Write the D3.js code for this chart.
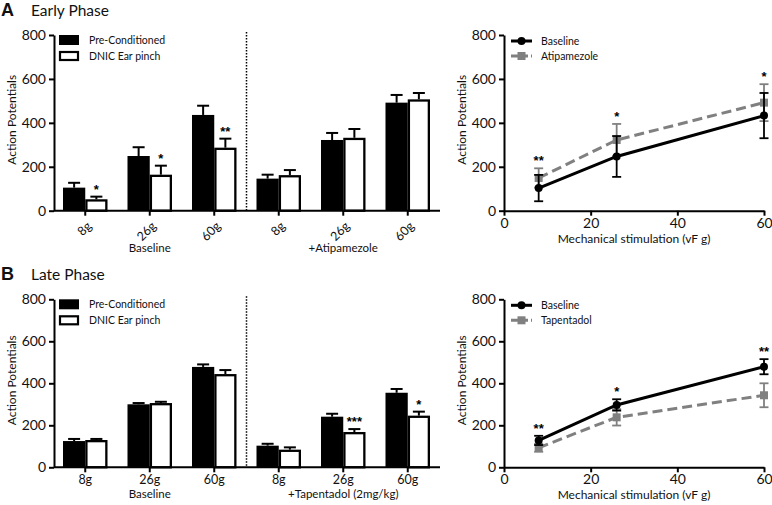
<!DOCTYPE html>
<html>
<head>
<meta charset="utf-8">
<script src="https://cdn.jsdelivr.net/npm/d3@7"></script>
<style>
  body { margin: 0; background: #fff; }
  text { font-family: Lato, "Open Sans", sans-serif; fill: #111; }
  text.star { font-family: "Liberation Sans", Arial, sans-serif; fill: #000; }
</style>
</head>
<body>
<script>
// ---- data ----
const catLabels = ["8g", "26g", "60g"];
const seriesNames = ["Pre-Conditioned", "DNIC Ear pinch"];

// A: early phase bars (baseline x3, + atipamezole x3)
const aPre = [105, 249, 436, 146, 322, 492];
const aPreErr = [22, 40, 42, 18, 32, 35];
const aDnic = [52, 164, 287, 162, 332, 507];
const aDnicErr = [12, 41, 41, 23, 40, 29];
const aStars = ["*", "*", "**", "", "", ""];
const aGroups = ["Baseline", "+Atipamezole"];

// B: late phase bars (baseline x3, + tapentadol x3)
const bPre = [125, 300, 478, 103, 241, 355];
const bPreErr = [10, 6, 12, 9, 14, 18];
const bDnic = [130, 306, 444, 84, 168, 246];
const bDnicErr = [5, 6, 19, 11, 14, 19];
const bStars = ["", "", "", "", "***", "*"];
const bGroups = ["Baseline", "+Tapentadol (2mg/kg)"];

// line panels
const stim = [8, 26, 60];
const aBase = [103, 247, 433];
const aBaseErr = [60, 93, 103];
const aAtip = [149, 322, 492];
const aAtipErr = [44, 73, 84];
const aLineStars = ["**", "*", "*"];

const bBase = [128, 297, 479];
const bBaseErr = [22, 27, 36];
const bTap = [93, 238, 343];
const bTapErr = [19, 39, 57];
const bLineStars = ["**", "*", "**"];

const yTicks = [0, 200, 400, 600, 800];
const xTicks = [0, 20, 40, 60];
const grey = "#808080";

const svg = d3.select("body").append("svg")
    .attr("width", 772)
    .attr("height", 505);

function styleAxis(g) {
  g.select(".domain").attr("stroke", "#000").attr("stroke-width", 2);
  g.selectAll(".tick line").attr("stroke", "#000").attr("stroke-width", 2);
  g.selectAll(".tick text").style("font-family", "Lato, sans-serif").attr("fill", "#111");
}

function panelTitle(letter, label, y) {
  svg.append("text").attr("x", 1).attr("y", y)
      .style("font-family", "'Liberation Sans', Arial, sans-serif")
      .style("font-weight", "bold").style("font-size", "18px")
      .text(letter);
  svg.append("text").attr("x", 31).attr("y", y)
      .style("font-size", "15.5px")
      .text(label);
}

function yLabel(x, cy) {
  svg.append("text")
      .attr("transform", `translate(${x},${cy}) rotate(-90)`)
      .attr("text-anchor", "middle")
      .style("font-size", "12px")
      .text("Action Potentials");
}

/*
   Grouped bar panel with up-only error bars
 */
function barPanel(o) {
  const y = d3.scaleLinear().domain([0, 800]).range([o.bottom, o.top]);
  const x0 = d3.scaleBand().domain(d3.range(6)).range([53, 440])
      .paddingInner(0.31).paddingOuter(0.155);
  const x1 = d3.scaleBand().domain([0, 1]).range([0, x0.bandwidth()]);
  const g = svg.append("g");

  // dotted separator
  const sepX = (x0(2) + x0.bandwidth() + x0(3)) / 2;
  g.append("line")
      .attr("x1", sepX).attr("x2", sepX)
      .attr("y1", o.top - 3).attr("y2", o.bottom)
      .attr("stroke", "#000").attr("stroke-width", 1.5)
      .attr("stroke-dasharray", "1.5,1.5");

  const rows = d3.range(6).map(i => [
    {i, s: 0, v: o.pre[i], e: o.preErr[i]},
    {i, s: 1, v: o.dnic[i], e: o.dnicErr[i], star: o.stars[i]}
  ]).flat();

  const bw = x1.bandwidth();
  const cx = d => x0(d.i) + x1(d.s) + bw / 2;

  // error bars (up only)
  g.selectAll("line.err").data(rows).enter().append("line")
      .attr("x1", cx).attr("x2", cx)
      .attr("y1", d => y(d.v)).attr("y2", d => y(d.v + d.e))
      .attr("stroke", "#000").attr("stroke-width", 2);
  g.selectAll("line.cap").data(rows).enter().append("line")
      .attr("x1", d => cx(d) - 6).attr("x2", d => cx(d) + 6)
      .attr("y1", d => y(d.v + d.e)).attr("y2", d => y(d.v + d.e))
      .attr("stroke", "#000").attr("stroke-width", 2);

  g.selectAll("rect.bar").data(rows).enter().append("rect")
      .attr("x", d => x0(d.i) + x1(d.s) + (d.s ? 1.15 : 0))
      .attr("y", d => y(d.v) + (d.s ? 1.15 : 0))
      .attr("width", d => bw - (d.s ? 2.3 : 0))
      .attr("height", d => o.bottom - y(d.v) - (d.s ? 1.15 : 0))
      .attr("fill", d => d.s ? "#fff" : "#000")
      .attr("stroke", d => d.s ? "#000" : "none")
      .attr("stroke-width", 2.3);

  g.selectAll("text.star").data(rows.filter(d => d.star)).enter().append("text")
      .attr("class", "star")
      .attr("x", cx).attr("y", d => y(d.v + d.e) - 3)
      .attr("text-anchor", "middle")
      .style("font-size", "13px").style("font-weight", "bold")
      .text(d => d.star);

  // axes
  const ya = g.append("g").attr("transform", "translate(54,0)")
      .call(d3.axisLeft(y).tickValues(yTicks).tickSize(5).tickSizeOuter(0).tickPadding(3));
  ya.selectAll("text").style("font-size", "14px");
  styleAxis(ya);

  const xa = g.append("g").attr("transform", `translate(0,${o.bottom})`)
      .call(d3.axisBottom(x0).tickSize(5).tickSizeOuter(0).tickFormat(i => catLabels[i % 3]));
  xa.select(".domain").attr("d", `M54,0H440`);
  styleAxis(xa);
  if (o.rotate) {
    xa.selectAll(".tick text")
        .attr("y", 0).attr("dy", "0.35em")
        .attr("text-anchor", "end")
        .attr("transform", "translate(4,13) rotate(-45)")
        .style("font-size", "12.5px");
  } else {
    xa.selectAll(".tick text").attr("y", 8).style("font-size", "12.5px");
  }

  g.selectAll("text.grp").data(o.groups).enter().append("text")
      .attr("x", (d, k) => x0(1 + 3 * k) + x0.bandwidth() / 2)
      .attr("y", o.bottom + o.grpDy)
      .attr("text-anchor", "middle")
      .style("font-size", "11.5px")
      .text(d => d);

  // legend
  const lg = g.append("g").attr("transform", `translate(59,${o.top})`);
  seriesNames.forEach((n, k) => {
    lg.append("rect")
        .attr("x", k ? 1 : 0).attr("y", k * 16 + (k ? 1 : 0))
        .attr("width", k ? 18 : 20).attr("height", k ? 8 : 10)
        .attr("fill", k ? "#fff" : "#000")
        .attr("stroke", k ? "#000" : "none").attr("stroke-width", 2.2);
    lg.append("text").attr("x", 30).attr("y", k * 16 + 9)
        .style("font-size", "10.5px").text(n);
  });

  yLabel(16, (o.top + o.bottom) / 2 - 3);
}

/*
   Two-series line panel with symmetric error bars
 */
function linePanel(o) {
  const y = d3.scaleLinear().domain([0, 800]).range([o.bottom, o.top]);
  const x = d3.scaleLinear().domain([0, 60]).range([504, 764]);
  const g = svg.append("g");

  const series = [
    {name: o.name2, v: o.v2, e: o.e2, color: grey, dash: "10,5", sym: "square"},
    {name: "Baseline", v: o.v1, e: o.e1, color: "#000", dash: null, sym: "circle"}
  ];

  const line = d3.line().x((d, i) => x(stim[i])).y(d => y(d));

  series.forEach(s => {
    const pts = stim.map((t, i) => ({t, v: s.v[i], e: s.e[i]}));
    g.append("path").datum(s.v)
        .attr("d", line)
        .attr("fill", "none").attr("stroke", s.color).attr("stroke-width", 3)
        .attr("stroke-dasharray", s.dash);
    g.selectAll(null).data(pts).enter().append("line")
        .attr("x1", d => x(d.t)).attr("x2", d => x(d.t))
        .attr("y1", d => y(d.v - d.e)).attr("y2", d => y(d.v + d.e))
        .attr("stroke", s.color).attr("stroke-width", 1.8);
    [1, -1].forEach(sg => {
      g.selectAll(null).data(pts).enter().append("line")
          .attr("x1", d => x(d.t) - 4.5).attr("x2", d => x(d.t) + 4.5)
          .attr("y1", d => y(d.v + sg * d.e)).attr("y2", d => y(d.v + sg * d.e))
          .attr("stroke", s.color).attr("stroke-width", 1.8);
    });
    if (s.sym === "circle") {
      g.selectAll(null).data(pts).enter().append("circle")
          .attr("cx", d => x(d.t)).attr("cy", d => y(d.v)).attr("r", 4)
          .attr("fill", s.color);
    } else {
      g.selectAll(null).data(pts).enter().append("rect")
          .attr("x", d => x(d.t) - 4).attr("y", d => y(d.v) - 4)
          .attr("width", 8).attr("height", 8)
          .attr("fill", s.color);
    }
  });

  // significance above the higher error bar
  g.selectAll("text.star").data(stim).enter().append("text")
      .attr("class", "star")
      .attr("x", d => x(d))
      .attr("y", (d, i) => y(Math.max(o.v1[i] + o.e1[i], o.v2[i] + o.e2[i])) - 3)
      .attr("text-anchor", "middle")
      .style("font-size", "13px").style("font-weight", "bold")
      .text((d, i) => o.stars[i]);

  const ya = g.append("g").attr("transform", "translate(504,0)")
      .call(d3.axisLeft(y).tickValues(yTicks).tickSize(5).tickSizeOuter(0).tickPadding(3));
  ya.selectAll("text").style("font-size", "14px");
  styleAxis(ya);

  const xa = g.append("g").attr("transform", `translate(0,${o.bottom})`)
      .call(d3.axisBottom(x).tickValues(xTicks).tickSize(5).tickSizeOuter(0).tickPadding(2));
  xa.selectAll("text").style("font-size", "14px");
  styleAxis(xa);

  svg.append("text")
      .attr("x", 634).attr("y", o.bottom + 32)
      .attr("text-anchor", "middle")
      .style("font-size", "12px")
      .text("Mechanical stimulation (vF g)");

  // legend
  const lg = g.append("g").attr("transform", `translate(504,${o.top})`);
  [series[1], series[0]].forEach((s, k) => {
    const yy = 6 + k * 15;
    lg.append("line").attr("x1", 7).attr("x2", 28).attr("y1", yy).attr("y2", yy)
        .attr("stroke", s.color).attr("stroke-width", 3)
        .attr("stroke-dasharray", s.dash ? "7,3" : null);
    if (s.sym === "circle") {
      lg.append("circle").attr("cx", 17.5).attr("cy", yy).attr("r", 4).attr("fill", s.color);
    } else {
      lg.append("rect").attr("x", 13.5).attr("y", yy - 4).attr("width", 8).attr("height", 8)
          .attr("fill", s.color);
    }
    lg.append("text").attr("x", 37).attr("y", yy + 4)
        .style("font-size", "10.5px").text(s.name);
  });

  yLabel(466, (o.top + o.bottom) / 2 - 3);
}

panelTitle("A", "Early Phase", 16);
panelTitle("B", "Late Phase", 280);

barPanel({top: 35, bottom: 210.7, pre: aPre, preErr: aPreErr, dnic: aDnic, dnicErr: aDnicErr,
          stars: aStars, groups: aGroups, rotate: true, grpDy: 41});
barPanel({top: 299.3, bottom: 467.3, pre: bPre, preErr: bPreErr, dnic: bDnic, dnicErr: bDnicErr,
          stars: bStars, groups: bGroups, rotate: false, grpDy: 31});

linePanel({top: 35, bottom: 210.7, v1: aBase, e1: aBaseErr, v2: aAtip, e2: aAtipErr,
           name2: "Atipamezole", stars: aLineStars});
linePanel({top: 299.3, bottom: 467.3, v1: bBase, e1: bBaseErr, v2: bTap, e2: bTapErr,
           name2: "Tapentadol", stars: bLineStars});
</script>
</body>
</html>
